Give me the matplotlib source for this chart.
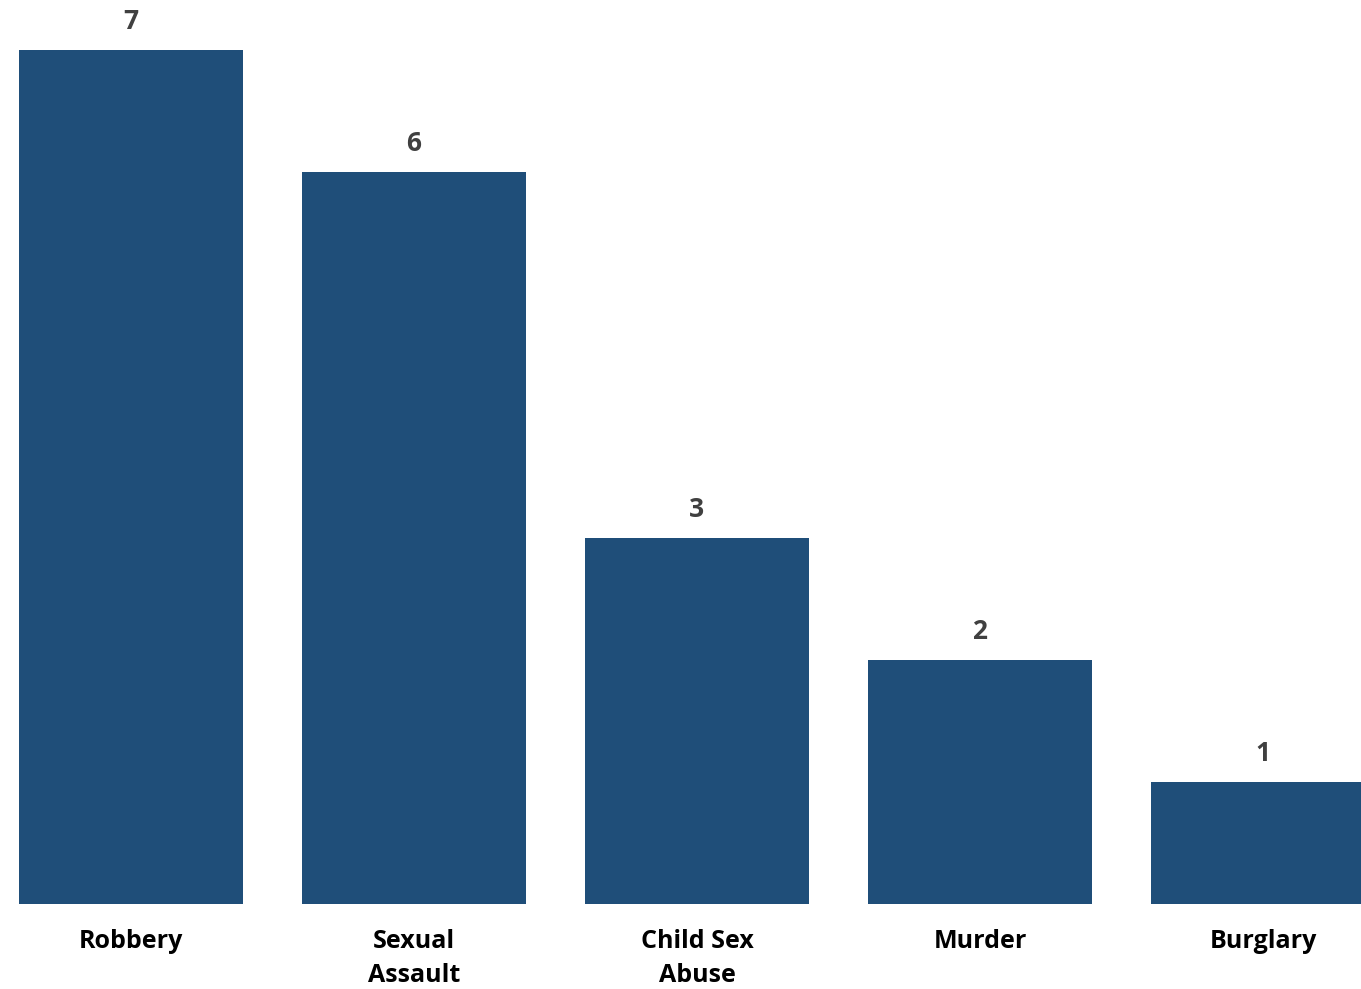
import matplotlib.pyplot as plt

categories = ['Robbery', 'Sexual\nAssault', 'Child Sex\nAbuse', 'Murder', 'Burglary']
counts = [7, 6, 3, 2, 1]

bar_color = '#1F4E79'
plt.rcParams['font.family'] = ['Open Sans', 'DejaVu Sans']

fig = plt.figure(figsize=(13.61, 9.89), dpi=100)
ax = fig.add_axes([0, 1 - 904 / 989, 1, 904 / 989])

x = list(range(len(categories)))
bars = ax.bar(x, counts, width=0.788, color=bar_color)

for xi, v in zip(x, counts):
    ax.annotate(str(v), (xi, v), xytext=(0, 11), textcoords='offset points',
                ha='center', va='bottom', fontsize=19, fontweight='bold',
                color='#404040')

ax.set_xlim(-131 / 283, (1361 - 131) / 283)
ax.set_ylim(0, 904 / 122)
ax.set_xticks(x)
ax.set_xticklabels(categories, fontsize=18, fontweight='bold', color='black',
                   linespacing=1.45)
ax.tick_params(axis='x', length=0, pad=18)
ax.set_yticks([])
for s in ax.spines.values():
    s.set_visible(False)

fig.savefig('out.png', dpi=100)
